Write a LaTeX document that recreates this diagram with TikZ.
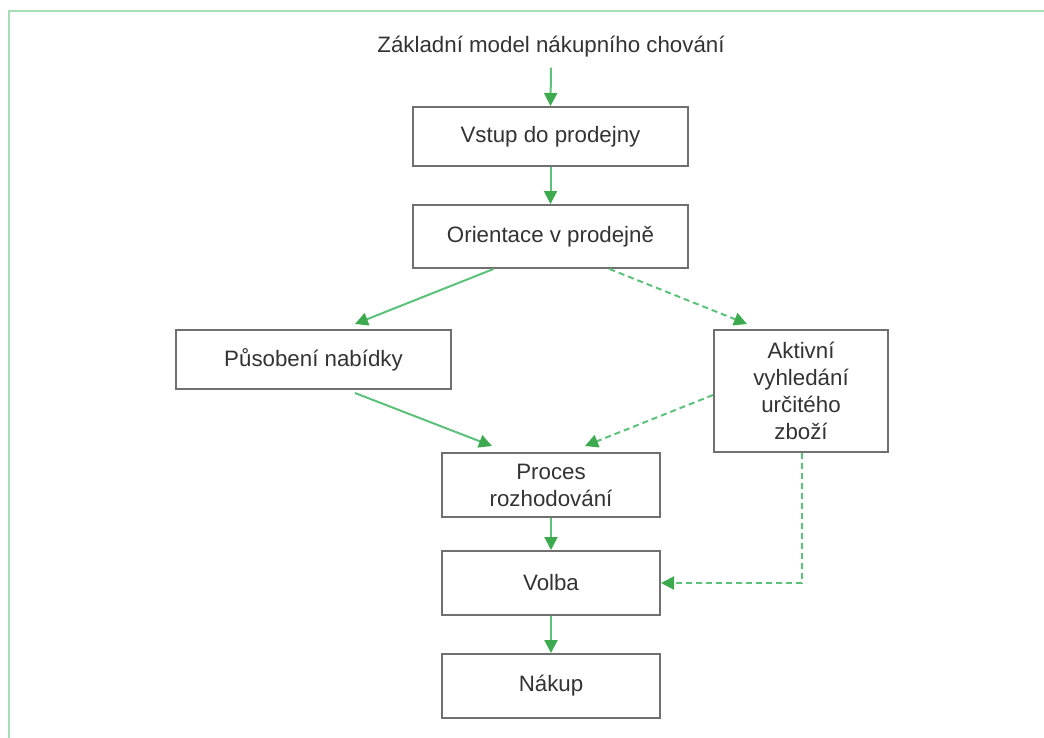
\documentclass[tikz,border=0pt]{standalone}
\usepackage{fontspec}
\setmainfont{Liberation Sans}
\usetikzlibrary{arrows.meta,calc}
\definecolor{frameg}{HTML}{A6DEB8}
\definecolor{lineg}{HTML}{5CC17A}
\definecolor{tipg}{HTML}{3DAA50}
\definecolor{boxgray}{HTML}{707070}
\definecolor{txt}{HTML}{333333}
\tikzset{
  fnt/.style={font=\fontsize{22.3pt}{27pt}\selectfont},
  stepbox/.style={draw=boxgray,line width=2pt,fill=white,text=txt,align=center,inner sep=2pt,fnt},
  conn/.style={draw=lineg,line width=2pt,-{Triangle[length=13pt,width=13pt,fill=tipg,color=tipg]}},
  dconn/.style={conn,dash pattern=on 6pt off 4pt},
}
\begin{document}
\begin{tikzpicture}[x=1pt,y=-1pt]
\useasboundingbox (0,0) rectangle (1044,737);
\begin{scope}
\clip (0,0) rectangle (1044,737);
\draw[frameg,line width=2.4pt] (9,11) rectangle (1060,760);
\end{scope}
\node[text=txt,fnt,inner sep=0pt] (title) at (551,47) {Základní model nákupního chování};
\node[stepbox,minimum width=275pt,minimum height=59pt] (b1) at (550.5,136.5) {Vstup do prodejny};
\node[stepbox,minimum width=275pt,minimum height=63pt] (b2) at (550.5,236.5) {Orientace v prodejně};
\node[stepbox,minimum width=275pt,minimum height=59pt] (b3) at (313.5,359.5) {Působení nabídky};
\node[stepbox,minimum width=174pt,minimum height=122pt] (b4) at (801,391) {Aktivní\\vyhledání\\určitého\\zboží};
\node[stepbox,minimum width=218pt,minimum height=64pt] (b5) at (551,485) {Proces\\rozhodování};
\node[stepbox,minimum width=218pt,minimum height=64pt] (b6) at (551,583) {Volba};
\node[stepbox,minimum width=218pt,minimum height=64pt] (b7) at (551,686) {Nákup};

\draw[conn] ([yshift=-10pt]title.south) -- (b1.north);
\draw[conn] (b1.south) -- (b2.north);
\draw[conn] ([xshift=-57pt]b2.south) -- ([xshift=41.5pt,yshift=5pt]b3.north);
\draw[dconn] ([xshift=59pt]b2.south) -- ([xshift=-54pt,yshift=5pt]b4.north);
\draw[conn] ([xshift=41.5pt,yshift=-3pt]b3.south) -- ([xshift=-59pt,yshift=6pt]b5.north);
\draw[dconn] ([yshift=-4pt]b4.west) -- ([xshift=34pt,yshift=6pt]b5.north);
\draw[dconn] ([xshift=1pt]b4.south) |- (b6.east);
\draw[conn] (b5.south) -- (b6.north);
\draw[conn] (b6.south) -- (b7.north);
\end{tikzpicture}
\end{document}
